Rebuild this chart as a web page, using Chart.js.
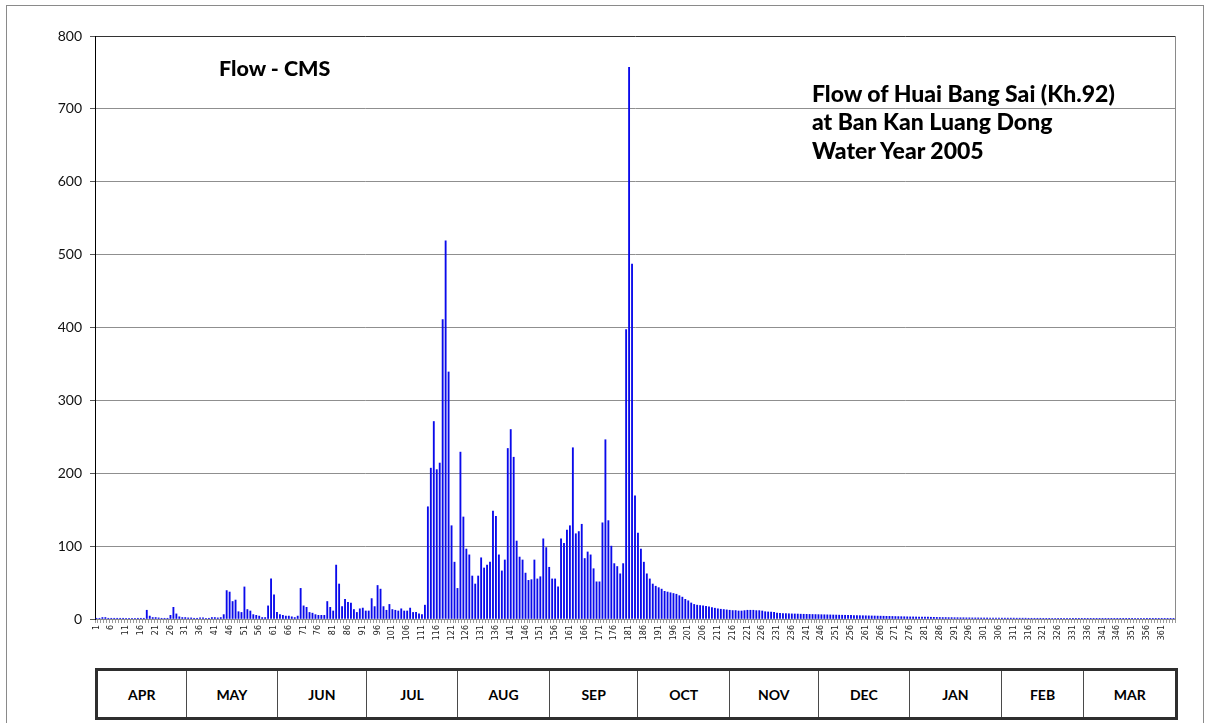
<!DOCTYPE html>
<html>
<head>
<meta charset="utf-8">
<script src="https://cdn.jsdelivr.net/npm/chart.js@4/dist/chart.umd.min.js"></script>
<style>
  html, body { margin: 0; padding: 0; background: #fff; }
  #wrap { position: relative; width: 1210px; height: 723px; overflow: hidden; }
  #frame { position: absolute; left: 6px; top: 5px; width: 1198px; height: 740px; border: 1px solid #8a8a8a; box-sizing: border-box; }
  canvas { position: absolute; left: 0; top: 0; }
  .note { position: absolute; font-family: Lato, "Open Sans", sans-serif; font-weight: 900; color: #000; white-space: nowrap; }
  #n1 { left: 219px; top: 55px; font-size: 21.5px; line-height: 26px; }
  #n2 { left: 812px; top: 79px; font-size: 23px; line-height: 28.4px; }
  #months { position: absolute; left: 95px; top: 668px; width: 1083px; height: 52px; border: 3px solid #2e2e2e; box-sizing: border-box; display: flex; background: #fff; }
  #months div { flex-basis: 0; display: flex; align-items: center; justify-content: center; font-family: Lato, "Open Sans", sans-serif; font-weight: bold; font-size: 14px; color: #000; border-left: 1px solid #4a4a4a; box-sizing: border-box; }
  #months div:first-child { border-left: none; }
</style>
</head>
<body>
<div id="wrap">
  <div id="frame"></div>
  <canvas id="c" width="1210" height="723"></canvas>
  <div class="note" id="n1">Flow - CMS</div>
  <div class="note" id="n2">Flow of Huai Bang Sai (Kh.92)<br>at Ban Kan Luang Dong<br>Water Year 2005</div>
  <div id="months"></div>
</div>
<script>
// ---- data ----
const days = [];
for (let d = 1; d <= 365; d++) days.push(String(d));

const flow = [
  1,1,2,2,1,1,1,1,1,1,
  1,1,1,1,1,1,1,12,4,2,
  2,1.5,1,1,1,5,16,7,3,2,
  2,1.5,1.5,1,1,1.5,1.5,1,1,2,
  2,1.5,2,6,39,37,24,26,10,9,
  44,13,11,6,5,4,2,2,18,55,
  33,9,6,5,4,4,3,2,4,42,
  18,16,9,8,6,5,5,5,24,16,
  11,74,48,17,27,23,22,13,9,14,
  15,11,11,28,17,46,41,17,12,20,
  13,12,11,14,11,11,15,9,9,7,
  6,19,154,207,271,205,214,411,519,339,
  128,78,42,229,140,96,88,59,48,59,
  84,70,74,78,148,141,88,66,81,234,
  260,222,107,85,81,63,53,54,81,55,
  58,110,98,71,55,55,44,110,104,122,
  128,235,117,120,130,83,92,88,69,51,
  51,132,246,135,100,76,72,62,76,397,
  757,487,169,118,96,78,62,55,48,45,
  43,41,38,37,36,35,34,32,30,27,
  25,22,20,19,18.5,18,17.5,16.7,15.7,14.8,
  14,13.4,13,12.5,12,11.6,11.6,11,11,11.5,
  12,12,12,11.5,11.5,11,10,9.7,9.5,9,
  8,7.8,7.6,7.4,7.2,7,6.9,6.8,6.6,6.5,
  6.4,6.3,6.2,6.1,6,5.9,5.8,5.7,5.6,5.5,
  5.4,5.3,5.2,5.1,5,4.9,4.8,4.7,4.6,4.5,
  4.4,4.3,4.2,4.1,4,3.9,3.8,3.7,3.6,3.5,
  3.4,3.3,3.2,3.1,3,2.9,2.9,2.8,2.8,2.7,
  2.6,2.5,2.4,2.3,2.2,2.1,2,2,1.9,1.9,
  1.8,1.8,1.7,1.7,1.6,1.6,1.5,1.5,1.5,1.4,
  1.4,1.4,1.3,1.3,1.3,1.3,1.2,1.2,1.2,1.2,
  1.2,1.1,1.1,1.1,1.1,1,1,1,1,1,
  0.9,0.9,0.9,0.8,0.8,0.5,0.5,0.5,0.5,0.5,
  0.4,0.4,0.4,0.4,0.4,0.4,0.4,0.4,0.4,0.4,
  0.4,0.4,0.4,0.4,0.4,0.4,0.4,0.4,0.4,0.4,
  0.4,0.4,0.4,0.4,0.4,0.4,0.4,0.4,0.4,0.4,
  0.4,0.4,0.4,0.4,0.4
];

const yTicks = [0,100,200,300,400,500,600,700,800];
const monthNames = ["APR","MAY","JUN","JUL","AUG","SEP","OCT","NOV","DEC","JAN","FEB","MAR"];
const monthDays  = [30,31,30,31,31,30,31,30,31,31,28,31];

// month strip
const strip = document.getElementById('months');
monthNames.forEach((m, i) => {
  const d = document.createElement('div');
  d.style.flexGrow = monthDays[i];
  d.textContent = m;
  strip.appendChild(d);
});

const rightBorder = {
  id: 'rightBorder',
  afterDraw(chart) {
    const a = chart.chartArea, ctx = chart.ctx;
    ctx.save();
    ctx.strokeStyle = '#8a8a8a';
    ctx.lineWidth = 1;
    ctx.beginPath();
    ctx.moveTo(Math.round(a.right) + 0.5, a.top);
    ctx.lineTo(Math.round(a.right) + 0.5, a.bottom);
    ctx.stroke();
    ctx.restore();
  }
};

new Chart(document.getElementById('c'), {
  type: 'bar',
  data: {
    labels: days,
    datasets: [{
      data: flow,
      backgroundColor: 'rgb(10,10,235)',
      barThickness: 1.2,
      borderWidth: 0
    }]
  },
  options: {
    responsive: false,
    animation: false,
    layout: { padding: { left: 0, right: 35, top: 36, bottom: 74 } },
    plugins: { legend: { display: false }, tooltip: { enabled: false } },
    scales: {
      x: {
        type: 'category',
        offset: true,
        grid: { display: true, drawOnChartArea: false, drawTicks: true, tickLength: 4, color: '#9a9a9a' },
        border: { display: true, color: '#8a8a8a', width: 1 },
        ticks: {
          autoSkip: false,
          maxRotation: 90,
          minRotation: 90,
          padding: 2,
          font: { family: 'DejaVu Sans', size: 8 },
          color: '#222',
          callback: function(v, i) { return (i % 5 === 0) ? days[i] : ''; }
        },
        afterFit(s) { s.height = 30; }
      },
      y: {
        min: 0,
        max: 800,
        afterBuildTicks(s) { s.ticks = yTicks.map(v => ({ value: v })); },
        grid: {
          color: (ctx) => (ctx.tick && ctx.tick.value === 800) ? '#333' : '#8f8f8f',
          lineWidth: 1,
          drawTicks: true,
          tickLength: 5,
          tickColor: '#555'
        },
        border: { display: true, color: '#000', width: 1 },
        ticks: {
          font: { family: 'Lato', size: 14 },
          color: '#111',
          padding: 8
        },
        afterFit(s) { s.width = 95; }
      }
    }
  },
  plugins: [rightBorder]
});
</script>
</body>
</html>
